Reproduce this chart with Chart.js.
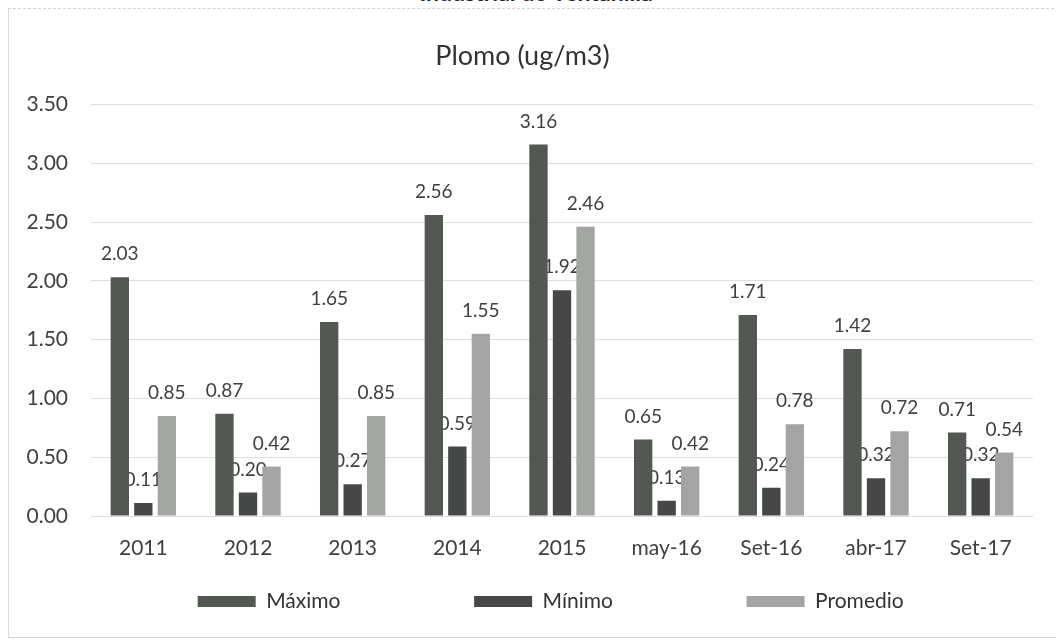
<!DOCTYPE html>
<html>
<head>
<meta charset="utf-8">
<script src="https://cdn.jsdelivr.net/npm/chart.js@4/dist/chart.umd.min.js"></script>
<style>
  body { margin: 0; background: #fff; }
  #wrap { position: relative; width: 1056px; height: 643px; overflow: hidden; }
  #marco { position: absolute; left: 8px; top: 8px; width: 1060px; height: 628px;
           border-top: 1px dashed #d2d2d2; border-left: 1px solid #dadada; border-bottom: 1px solid #d2d2d2; }
  #cortado { position: absolute; left: 0; width: 1072px; top: -19px; text-align: center;
             font: bold 23px Lato, sans-serif; line-height: 23px; color: #222; }
  #grafico { position: absolute; left: 0; top: 0; }
</style>
</head>
<body>
<div id="wrap">
  <div id="cortado">Industrial de Ventanilla</div>
  <div id="marco"></div>
  <canvas id="grafico" width="1056" height="643"></canvas>
</div>
<script>
Chart.defaults.color = '#404040';
Chart.defaults.font.family = 'Lato, sans-serif';
Chart.defaults.font.size = 21;

const categorias = ['2011', '2012', '2013', '2014', '2015', 'may-16', 'Set-16', 'abr-17', 'Set-17'];
const maximo = [2.03, 0.87, 1.65, 2.56, 3.16, 0.65, 1.71, 1.42, 0.71];
const minimo = [0.11, 0.20, 0.27, 0.59, 1.92, 0.13, 0.24, 0.32, 0.32];
const promedio = [0.85, 0.42, 0.85, 1.55, 2.46, 0.42, 0.78, 0.72, 0.54];
const ticksY = [0, 0.5, 1, 1.5, 2, 2.5, 3, 3.5];

// etiquetas de valor, se dibujan antes que las barras (como en el original)
const etiquetas = {
    id: 'etiquetas',
    beforeDatasetsDraw(chart) {
        const ctx = chart.ctx;
        ctx.save();
        ctx.font = '19px Lato, sans-serif';
        ctx.fillStyle = '#404040';
        ctx.textAlign = 'center';
        ctx.textBaseline = 'middle';
        chart.data.datasets.forEach((ds, i) => {
            chart.getDatasetMeta(i).data.forEach((bar, j) => {
                ctx.fillText(ds.data[j].toFixed(2), bar.x, bar.y - 23);
            });
        });
        ctx.restore();
    }
}

// la leyenda va un poco a la derecha
const moverLeyenda = {
    id: 'moverLeyenda',
    afterLayout(chart) {
        chart.legend.left += 90;
        chart.legend.right += 90;
    }
}

const separacion = ' '.repeat(23);

const data = {
    labels: categorias,
    datasets: [
        { label: 'Máximo', data: maximo, backgroundColor: '#535853' },
        { label: 'Mínimo', data: minimo, backgroundColor: '#454846' },
        { label: 'Promedio', data: promedio, backgroundColor: '#a3a5a3' }
    ]
}

const options = {
    responsive: false,
    animation: false,
    devicePixelRatio: 1,
    layout: {
        padding: { left: 12, right: 23, top: 20, bottom: 21 }
    },
    datasets: {
        bar: { categoryPercentage: 0.674, barPercentage: 0.78 }
    },
    plugins: {
        title: {
            display: true,
            text: 'Plomo (ug/m3)',
            color: '#333',
            font: { size: 27, weight: 'normal' },
            padding: { top: 20, bottom: 32 }
        },
        legend: {
            position: 'bottom',
            labels: {
                boxWidth: 58,
                boxHeight: 11,
                padding: 10,
                color: '#333',
                generateLabels: (chart) =>
                    Chart.defaults.plugins.legend.labels.generateLabels(chart)
                        .map(l => ({ ...l, text: l.text + separacion }))
            }
        },
        tooltip: { enabled: false }
    },
    scales: {
        x: {
            grid: { display: false, drawTicks: false },
            border: { display: false },
            afterFit: (s) => { s.height = 65 },
            ticks: { padding: 20, color: '#404040' }
        },
        y: {
            min: 0,
            max: 3.5,
            afterBuildTicks: (s) => { s.ticks = ticksY.map(v => ({ value: v })) },
            afterFit: (s) => { s.width = 79 },
            grid: { color: '#dedede', drawTicks: false },
            border: { display: false },
            ticks: {
                padding: 23,
                color: '#404040',
                callback: (v) => Number(v).toFixed(2)
            }
        }
    }
}

new Chart('grafico', {
    type: 'bar',
    data,
    options,
    plugins: [etiquetas, moverLeyenda]
})
</script>
</body>
</html>
